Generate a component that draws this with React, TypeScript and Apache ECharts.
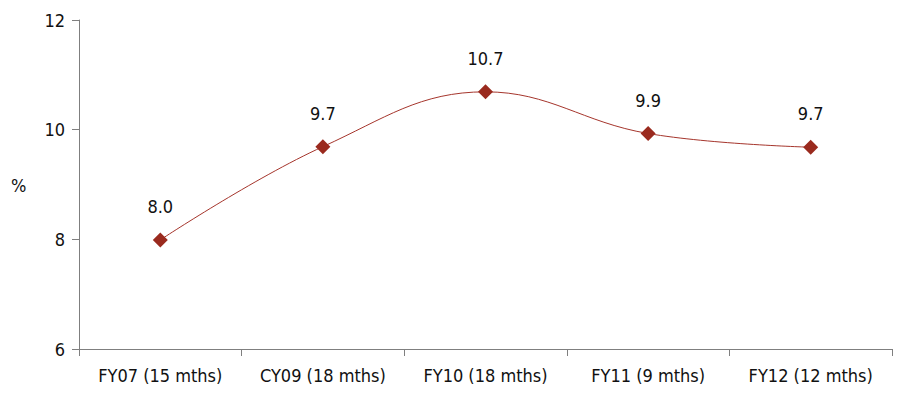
import React, { useEffect, useRef } from "react";
import * as echarts from "echarts";

const categories = ["FY07 (15 mths)", "CY09 (18 mths)", "FY10 (18 mths)", "FY11 (9 mths)", "FY12 (12 mths)"];
const values = [7.99, 9.69, 10.69, 9.93, 9.68];
const yTicks = { min: 6, max: 12, interval: 2 };

const FONT = "'DejaVu Sans Condensed', 'Liberation Sans Narrow', 'Roboto', sans-serif";

export default function App() {
  const ref = useRef<HTMLDivElement>(null);
  useEffect(() => {
    if (!ref.current) return;
    const chart = echarts.init(ref.current, undefined, { renderer: "svg" });
    chart.setOption({
      animation: false,
      backgroundColor: "#ffffff",
      grid: { left: 79, right: 7, top: 20, bottom: 45, containLabel: false },
      graphic: [
        {
          type: "text",
          left: 11,
          top: 176,
          style: { text: "%", font: `18px ${FONT}`, fill: "#111" },
        },
      ],
      xAxis: {
        type: "category",
        data: categories,
        boundaryGap: true,
        axisLine: { lineStyle: { color: "#7f7f7f", width: 1 } },
        axisTick: { show: true, length: 7, interval: 0, alignWithLabel: false, lineStyle: { color: "#7f7f7f" } },
        axisLabel: { interval: 0, color: "#111", fontFamily: FONT, fontSize: 18, margin: 17 },
      },
      yAxis: {
        type: "value",
        min: yTicks.min,
        max: yTicks.max,
        interval: yTicks.interval,
        splitLine: { show: false },
        axisLine: { show: true, lineStyle: { color: "#7f7f7f", width: 1 } },
        axisTick: { show: true, length: 7, lineStyle: { color: "#7f7f7f" } },
        axisLabel: { color: "#111", fontFamily: FONT, fontSize: 18, margin: 14 },
      },
      series: [
        {
          type: "line",
          data: values,
          smooth: 0.4,
          symbol: "diamond",
          symbolSize: 15,
          itemStyle: { color: "#9a2a1e" },
          lineStyle: { color: "#a5352c", width: 1 },
          label: {
            show: true,
            position: "top",
            distance: 17,
            color: "#111",
            fontFamily: FONT,
            fontSize: 18,
            formatter: (p: any) => Number(p.value).toFixed(1),
          },
        },
      ],
    });
    return () => chart.dispose();
  }, []);
  return <div ref={ref} style={{ width: 899, height: 394, position: "absolute", left: 0, top: 0 }} />;
}
